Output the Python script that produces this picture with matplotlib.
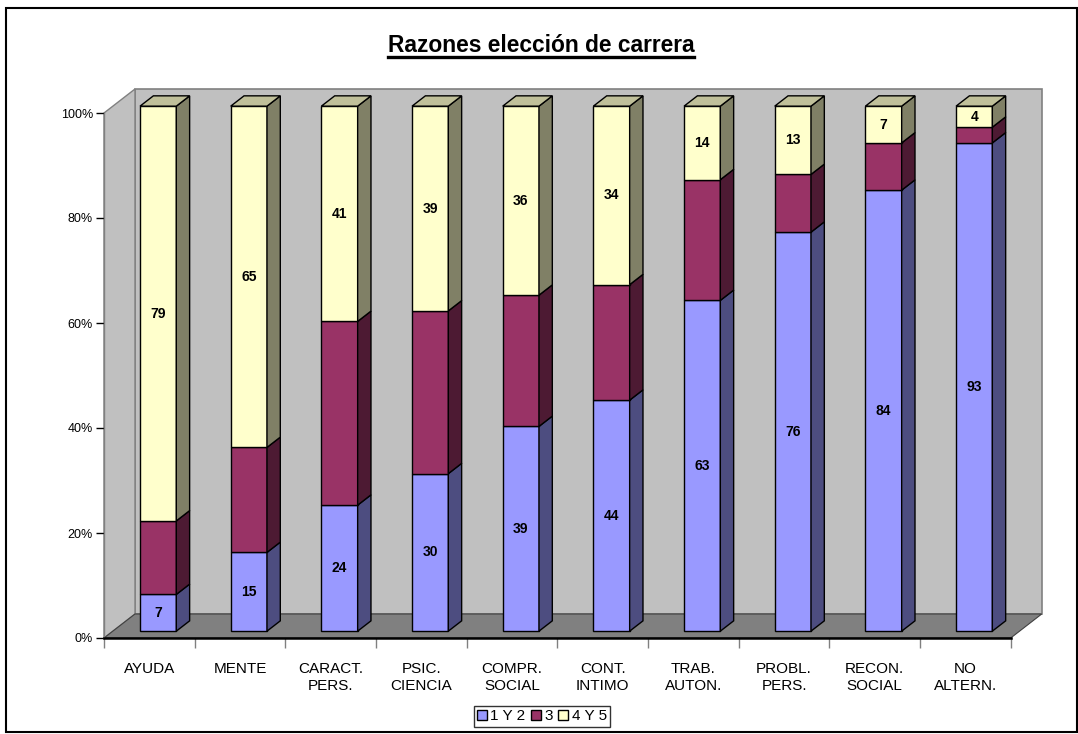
import matplotlib
matplotlib.use("Agg")
import matplotlib.pyplot as plt
from matplotlib.patches import Polygon, Rectangle, Patch
import numpy as np

plt.rcParams['font.family'] = ['Liberation Sans', 'DejaVu Sans']

# ---------------- data ----------------
categories = ["AYUDA", "MENTE", "CARACT.\nPERS.", "PSIC.\nCIENCIA", "COMPR.\nSOCIAL",
              "CONT.\nINTIMO", "TRAB.\nAUTON.", "PROBL.\nPERS.", "RECON.\nSOCIAL", "NO\nALTERN."]
series_names = ["1 Y 2", "3", "4 Y 5"]
v_12 = [7, 15, 24, 30, 39, 44, 63, 76, 84, 93]
v_3 = [14, 20, 35, 31, 25, 22, 23, 11, 9, 3]
v_45 = [79, 65, 41, 39, 36, 34, 14, 13, 7, 4]
y_ticks = [0, 20, 40, 60, 80, 100]
y_ticklabels = ["0%", "20%", "40%", "60%", "80%", "100%"]
title = "Razones elección de carrera"
label_series = [True, False, True]

# ---------------- style ----------------
front_cols = ["#9999FF", "#993366", "#FFFFCC"]
side_cols = ["#4D4D80", "#4D1A33", "#808066"]
top_cols = ["#7373BF", "#732650", "#C0C09A"]

W, H = 1078, 734
fig = plt.figure(figsize=(W / 100, H / 100), dpi=100)
fig.patch.set_facecolor("white")

left_px, right_px, top_px, bot_px = 104, 1010.7, 113, 638
ax = fig.add_axes([left_px / W, 1 - bot_px / H, (right_px - left_px) / W, (bot_px - top_px) / H])
n = len(categories)
ax.set_xlim(-0.5, n - 0.5)
ax.set_ylim(0, 100)
ax.set_facecolor("none")

# pixel -> data conversions
ux = n / (right_px - left_px)
uy = 100 / (bot_px - top_px)
WX, WY = 31 * ux, 24 * uy          # wall depth offsets
f0, fd = 0.285, 0.43               # bar depth position / thickness
bw = 0.40                          # bar width

# walls & floor
x0, x1 = -0.5, n - 0.5
lw_wall = Polygon([(x0, 0), (x0 + WX, WY), (x0 + WX, 100 + WY), (x0, 100)],
                  closed=True, facecolor="#C0C0C0", edgecolor="#808080", lw=1.0, clip_on=False, zorder=1)
bk_wall = Polygon([(x0 + WX, WY), (x1 + WX, WY), (x1 + WX, 100 + WY), (x0 + WX, 100 + WY)],
                  closed=True, facecolor="#C0C0C0", edgecolor="#808080", lw=1.2, clip_on=False, zorder=1)
floor = Polygon([(x0, 0), (x1, 0), (x1 + WX, WY), (x0 + WX, WY)],
                closed=True, facecolor="#808080", edgecolor="#404040", lw=0.8, clip_on=False, zorder=2)
for p in (bk_wall, lw_wall, floor):
    ax.add_patch(p)

# bars
data = [v_12, v_3, v_45]
for i in range(n):
    tot = sum(d[i] for d in data)
    bottom = 0.0
    xa = i - bw / 2 + f0 * WX
    xb = xa + bw
    sy = f0 * WY
    ddx, ddy = fd * WX, fd * WY
    for s, d in enumerate(data):
        h = d[i] / tot * 100
        ya, yb = bottom + sy, bottom + h + sy
        ax.add_patch(Polygon([(xa, ya), (xb, ya), (xb, yb), (xa, yb)], closed=True,
                             facecolor=front_cols[s], edgecolor="black", lw=1.0, clip_on=False, zorder=5))
        ax.add_patch(Polygon([(xb, ya), (xb + ddx, ya + ddy), (xb + ddx, yb + ddy), (xb, yb)], closed=True,
                             facecolor=side_cols[s], edgecolor="black", lw=1.0, clip_on=False, zorder=5))
        if s == len(data) - 1:
            ax.add_patch(Polygon([(xa, yb), (xb, yb), (xb + ddx, yb + ddy), (xa + ddx, yb + ddy)], closed=True,
                                 facecolor=top_cols[s], edgecolor="black", lw=1.0, clip_on=False, zorder=5))
        if label_series[s]:
            ax.text((xa + xb) / 2, (ya + yb) / 2, str(d[i]), ha="center", va="center",
                    fontsize=10, fontweight="bold", zorder=6)
        bottom += h

# axes styling
for sp in ["top", "right"]:
    ax.spines[sp].set_visible(False)
ax.spines["left"].set_color("#808080")
ax.spines["left"].set_linewidth(1.0)
ax.spines["bottom"].set_color("black")
ax.spines["bottom"].set_linewidth(1.8)
ax.spines["bottom"].set_zorder(3)
ax.set_yticks(y_ticks)
ax.set_yticklabels(y_ticklabels, fontsize=9)
ax.tick_params(axis="y", direction="out", length=6, width=1, color="black", pad=2)
ax.set_xticks(np.arange(n + 1) - 0.5)
ax.set_xticklabels([""] * (n + 1))
ax.tick_params(axis="x", which="major", direction="out", length=7, width=1, color="#808080")
ax.set_xticks(np.arange(n), minor=True)
ax.set_xticklabels(categories, minor=True, fontsize=11, linespacing=1.3)
ax.tick_params(axis="x", which="minor", length=0, pad=17)

# title with underline
t = fig.text(541 / W, 1 - 45 / H, title, ha="center", va="center", fontsize=16.4, fontweight="bold")
fig.canvas.draw()
bb = t.get_window_extent()
uy_px = bb.y0 + 1
fig.add_artist(plt.Line2D([bb.x0 / W, bb.x1 / W], [uy_px / H - 0.002, uy_px / H - 0.002],
                          color="black", lw=2.4, transform=fig.transFigure))

# legend
handles = [Patch(facecolor=front_cols[k], edgecolor="black", lw=1.0) for k in range(3)]
leg = fig.legend(handles, series_names, loc="center", bbox_to_anchor=(542 / W, 1 - 716.5 / H),
                 ncol=3, fontsize=11, frameon=True, fancybox=False, shadow=False,
                 handlelength=0.65, handleheight=0.65, handletextpad=0.25, columnspacing=0.35,
                 borderpad=0.2, borderaxespad=0)
leg.get_frame().set_edgecolor("black")
leg.get_frame().set_linewidth(1.0)

# outer frame
fig.add_artist(Rectangle((6 / W, 1 - 732 / H), 1071 / W, 724 / H, transform=fig.transFigure,
                         fill=False, edgecolor="black", lw=1.5))

fig.savefig("out.png", dpi=100)
